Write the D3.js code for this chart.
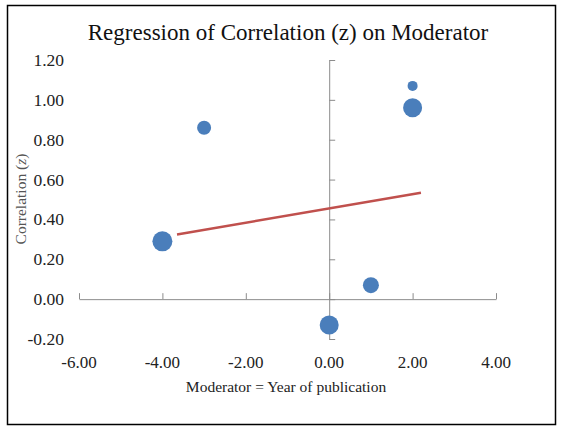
<!DOCTYPE html>
<html>
<head>
<meta charset="utf-8">
<script src="https://cdn.jsdelivr.net/npm/d3@7.9.0/dist/d3.min.js"></script>
<style>
  body { margin: 0; background: #fff; }
  svg { display: block; font-family: "Liberation Serif", "Times New Roman", serif; }
</style>
</head>
<body>
<svg id="chart" width="561" height="427"></svg>
<script>
// ---- data ----
const moderator   = [-4, -3, 2, 2, 1, 0];
const correlation = [0.29, 0.86, 1.07, 0.96, 0.07, -0.13];
const weight      = [10, 7, 5, 9.5, 8, 9.5];   // bubble radius
const fitX        = [-3.65, 2.2];
const fitIntercept = 0.455;
const fitSlope     = 0.0357;
const xTicks = [-6, -4, -2, 0, 2, 4];
const yTicks = [-0.2, 0, 0.2, 0.4, 0.6, 0.8, 1.0, 1.2];

const svg = d3.select("#chart");

// outer frame
svg.append("rect")
  .attr("x", 7.5).attr("y", 5.5)
  .attr("width", 548).attr("height", 419)
  .attr("fill", "none").attr("stroke", "#000").attr("stroke-width", 1.5);

const x = d3.scaleLinear().domain([-6, 4]).range([79, 496]);
const y = d3.scaleLinear().domain([-0.2, 1.2]).range([339, 60]);

const axisColor = "#8c8c8c";

// x axis along y = 0, ticks pointing up
const gx = svg.append("g")
  .attr("transform", `translate(0,${y(0)})`)
  .call(d3.axisTop(x).tickValues(xTicks).tickSize(6).tickSizeOuter(0).tickFormat(""));
gx.selectAll("path, line").attr("stroke", axisColor);

// y axis along x = 0, ticks pointing right
const gy = svg.append("g")
  .attr("transform", `translate(${x(0)},0)`)
  .call(d3.axisRight(y).tickValues(yTicks).tickSize(6).tickSizeOuter(0).tickFormat(""));
gy.selectAll("path, line").attr("stroke", axisColor);

// tick labels placed at the plot edges like Excel
svg.append("g").selectAll("text")
  .data(xTicks).join("text")
  .attr("x", d => x(d)).attr("y", 368)
  .attr("text-anchor", "middle")
  .attr("font-size", 17).attr("fill", "#222")
  .text(d => d.toFixed(2));

svg.append("g").selectAll("text")
  .data(yTicks).join("text")
  .attr("x", 64).attr("y", d => y(d) + 6)
  .attr("text-anchor", "end")
  .attr("font-size", 17.5).attr("fill", "#222")
  .text(d => d.toFixed(2));

// regression line
const line = d3.line().x(d => x(d)).y(d => y(fitIntercept + fitSlope * d));
svg.append("path")
  .attr("d", line(fitX))
  .attr("fill", "none").attr("stroke", "#c0504d").attr("stroke-width", 2.5);

// bubbles
svg.append("g").selectAll("circle")
  .data(moderator).join("circle")
  .attr("cx", d => x(d))
  .attr("cy", (d, i) => y(correlation[i]))
  .attr("r", (d, i) => weight[i])
  .attr("fill", "#4a7ebb");

// title
svg.append("text")
  .attr("x", 288).attr("y", 40)
  .attr("text-anchor", "middle")
  .attr("font-size", 23).attr("fill", "#111")
  .text("Regression of Correlation (z) on Moderator");

// x axis title
svg.append("text")
  .attr("x", 286).attr("y", 392)
  .attr("text-anchor", "middle")
  .attr("font-size", 15.5).attr("fill", "#222")
  .text("Moderator = Year of publication");

// y axis title
const yt = svg.append("text")
  .attr("transform", "translate(26,199) rotate(-90)")
  .attr("text-anchor", "middle")
  .attr("font-size", 15.5).attr("fill", "#555");
yt.append("tspan").text("Correlation (");
yt.append("tspan").attr("font-style", "italic").text("z");
yt.append("tspan").text(")");
</script>
</body>
</html>
